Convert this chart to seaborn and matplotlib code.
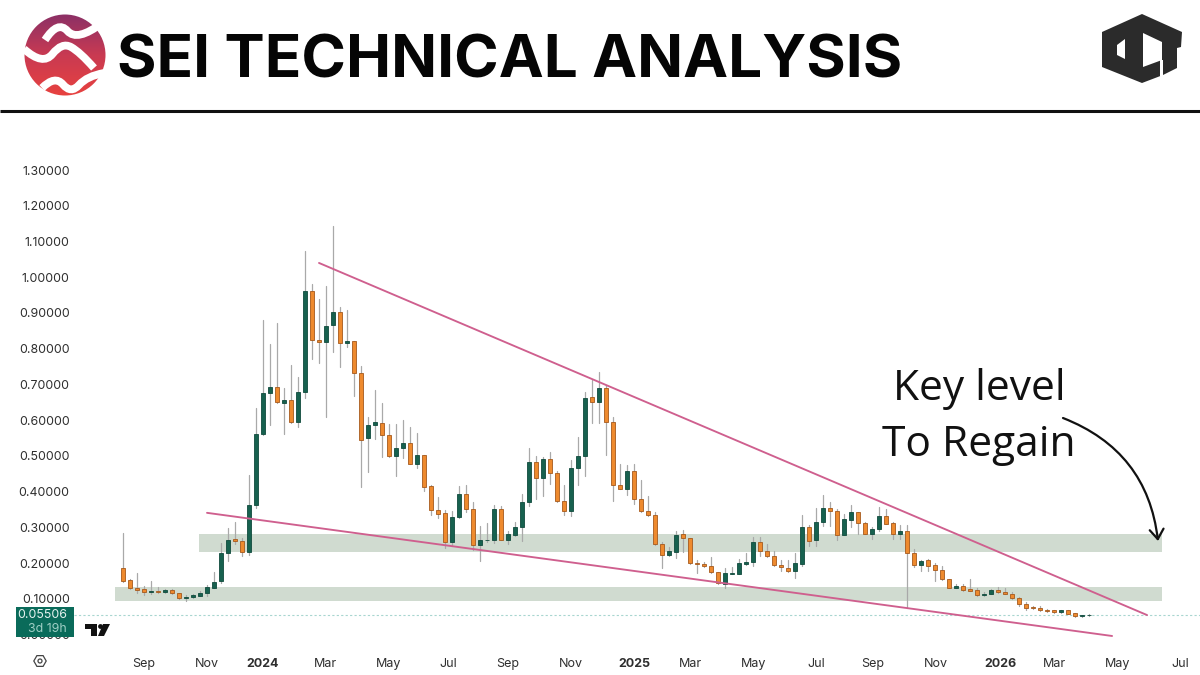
import numpy as np
import pandas as pd
import seaborn as sns
import matplotlib.pyplot as plt
from matplotlib.colors import LinearSegmentedColormap
from matplotlib.path import Path
from matplotlib.patches import Circle, Polygon, Rectangle, FancyArrowPatch, PathPatch

# weekly candles
opens = [.186, .153, .132, .127, .120, .122, .119, .124, .116, .103,
         .105, .109, .117, .132, .149, .228, .267, .263, .232, .363,
         .561, .675, .694, .649, .658, .596, .678, .961, .824, .820,
         .867, .903, .817, .823, .733, .549, .588, .593, .560, .501,
         .523, .535, .478, .502, .415, .349, .340, .259, .328, .394,
         .352, .250, .265, .266, .352, .266, .280, .300, .372, .482,
         .439, .491, .453, .375, .347, .467, .500, .664, .652, .691,
         .596, .418, .409, .459, .381, .347, .336, .255, .224, .232,
         .281, .270, .200, .198, .193, .175, .143, .171, .171, .199,
         .203, .260, .233, .221, .196, .188, .177, .199, .300, .264,
         .316, .354, .347, .280, .322, .342, .312, .283, .295, .331,
         .312, .282, .289, .229, .195, .208, .194, .181, .155, .132,
         .137, .128, .124, .110, .114, .124, .120, .115, .103, .085,
         .077, .075, .068, .068, .063, .068, .060, .053, .0545]
closes = [.150, .131, .125, .120, .122, .119, .124, .116, .103, .105,
          .110, .117, .133, .148, .228, .264, .263, .232, .363, .562,
          .677, .692, .650, .656, .595, .678, .961, .824, .819, .865,
          .902, .817, .822, .733, .546, .586, .594, .560, .500, .523,
          .536, .478, .502, .414, .349, .339, .259, .328, .394, .352,
          .250, .265, .266, .352, .266, .281, .300, .372, .483, .439,
          .491, .452, .375, .347, .467, .500, .661, .652, .691, .595,
          .420, .409, .457, .381, .347, .336, .255, .224, .233, .280,
          .270, .200, .197, .193, .175, .144, .172, .173, .200, .203,
          .260, .233, .221, .195, .189, .177, .200, .300, .263, .316,
          .354, .347, .280, .323, .342, .312, .283, .295, .331, .311,
          .283, .289, .229, .195, .207, .193, .181, .155, .132, .137,
          .126, .123, .110, .115, .124, .120, .115, .103, .085, .076,
          .075, .068, .067, .063, .068, .059, .053, .056, .05506]
highs = [.284, .155, .172, .136, .150, .134, .129, .127, .118, .112,
         .114, .123, .139, .176, .258, .298, .316, .270, .447, .635,
         .880, .812, .873, .689, .755, .722, 1.074, .980, .939, .976,
         1.143, .917, .908, .823, .752, .610, .684, .647, .589, .589,
         .601, .580, .563, .502, .419, .384, .349, .347, .416, .419,
         .370, .305, .313, .363, .361, .290, .316, .394, .521, .501,
         .496, .510, .459, .420, .489, .552, .680, .713, .734, .698,
         .610, .477, .475, .477, .433, .388, .344, .260, .246, .290,
         .293, .271, .209, .204, .218, .176, .186, .189, .212, .228,
         .274, .273, .253, .234, .209, .209, .230, .335, .307, .355,
         .391, .370, .351, .337, .364, .344, .314, .302, .356, .351,
         .314, .307, .307, .239, .209, .211, .202, .192, .156, .142,
         .142, .155, .130, .119, .127, .134, .130, .119, .105, .092,
         .081, .079, .071, .070, .068, .069, .061, .056, .058]
lows = [.148, .129, .118, .111, .114, .116, .116, .114, .101, .095,
        .104, .107, .109, .131, .144, .207, .255, .221, .223, .354,
        .559, .586, .648, .562, .593, .580, .661, .771, .761, .610,
        .792, .750, .804, .668, .414, .456, .547, .496, .496, .445,
        .495, .477, .466, .403, .334, .327, .244, .249, .326, .342,
        .237, .205, .260, .258, .265, .253, .277, .262, .361, .380,
        .389, .422, .372, .335, .333, .420, .444, .593, .593, .503,
        .374, .409, .391, .365, .344, .332, .251, .188, .221, .214,
        .232, .198, .172, .189, .173, .142, .132, .169, .170, .195,
        .192, .220, .218, .192, .177, .175, .160, .193, .248, .249,
        .304, .305, .265, .279, .300, .281, .281, .267, .291, .309,
        .267, .267, .074, .189, .178, .178, .150, .153, .130, .130,
        .123, .122, .108, .107, .113, .116, .113, .101, .081, .068,
        .071, .066, .064, .061, .061, .058, .051, .050, .053]

y_ticks = [0.0, 0.1, 0.2, 0.3, 0.4, 0.5, 0.6, 0.7, 0.8, 0.9, 1.0, 1.1, 1.2, 1.3]
x_ticks = [3, 12, 20, 28.9, 38, 46.4, 55, 64, 73.1, 81, 90.1, 99.1, 107.1, 116.1, 125.3, 133.1, 142.1, 151.1]
x_labels = ['Sep', 'Nov', '2024', 'Mar', 'May', 'Jul', 'Sep', 'Nov', '2025', 'Mar', 'May', 'Jul', 'Sep', 'Nov',
            '2026', 'Mar', 'May', 'Jul']

# support zones (left week, right week, bottom, top) and trend lines
zone_weeks = [[10.9, 148.4], [-1.1, 148.4]]
zone_prices = [[0.231, 0.282], [0.094, 0.134]]
upper_line_x = [28.0, 146.3]
upper_line_y = [1.04, 0.055]
lower_line_x = [12.0, 141.3]
lower_line_y = [0.341, -0.0035]
last_price = 0.05506

GREEN = '#17614f'
ORANGE = '#ee8a2e'
PINK = '#cf5f8e'
ZONE = '#d0dbd0'

sns.set_theme(style='white')
plt.rcParams['font.family'] = ['Inter', 'DejaVu Sans']

fig = plt.figure(figsize=(12, 6.75), dpi=100)
ax = fig.add_axes([85 / 1200, 1 - 650 / 675, 1115 / 1200, 520 / 675])

candles = pd.DataFrame({'week': np.arange(len(opens)), 'open': opens, 'high': highs, 'low': lows, 'close': closes})
candles['bottom'] = candles[['open', 'close']].min(axis=1)
candles['body'] = (candles['close'] - candles['open']).abs()

for (x0, x1), (y0, y1) in zip(zone_weeks, zone_prices):
    ax.add_patch(Rectangle((x0, y0), x1 - x0, y1 - y0, color=ZONE, lw=0, zorder=1))

wicks = candles.melt(id_vars='week', value_vars=['low', 'high'], value_name='price')
sns.lineplot(data=wicks, x='week', y='price', units='week', estimator=None, sort=False,
             color='#a9a9a9', lw=0.9, legend=False, ax=ax, zorder=2)

up = candles[candles['close'] >= candles['open']]
down = candles[candles['close'] < candles['open']]
sns.barplot(data=up, x='week', y='body', bottom=up['bottom'].values, native_scale=True, width=0.68,
            color=GREEN, saturation=1, errorbar=None, edgecolor='#0f4a3c', linewidth=0.6, ax=ax, zorder=3)
sns.barplot(data=down, x='week', y='body', bottom=down['bottom'].values, native_scale=True, width=0.68,
            color=ORANGE, saturation=1, errorbar=None, edgecolor='#a5591c', linewidth=0.6, ax=ax, zorder=3)

ax.plot(upper_line_x, upper_line_y, color=PINK, lw=1.35, zorder=4)
ax.plot(lower_line_x, lower_line_y, color=PINK, lw=1.35, zorder=4)
ax.plot([-7, 153.86], [last_price, last_price], color='#a8d6d0', lw=0.8, ls=(0, (2, 2)), zorder=1, clip_on=False)

ax.set_xlim(-5.43, 153.86)
ax.set_ylim(-0.0427, 1.4119)
ax.set_yticks(y_ticks)
ax.set_yticklabels([f'{v:.5f}' for v in y_ticks])
ax.set_xticks(x_ticks)
ax.set_xticklabels(x_labels)
for lab in ax.get_xticklabels():
    if lab.get_text().startswith('20'):
        lab.set_fontweight('bold')
ax.tick_params(axis='y', length=0, pad=11, labelsize=8.9, labelcolor='#2e2e2e')
ax.tick_params(axis='x', length=0, pad=6, labelsize=9, labelcolor='#2e2e2e')
ax.set_xlabel('')
ax.set_ylabel('')
ax.grid(False)
sns.despine(ax=ax, left=True, bottom=True)

# header and annotations live on a pixel-sized overlay
top = fig.add_axes([0, 0, 1, 1])
top.patch.set_alpha(0)
top.axis('off')

grad = np.linspace(0, 1, 256).reshape(-1, 1)
cmap = LinearSegmentedColormap.from_list('sei', ['#8b3066', '#c93a52', '#e8423f'])
im = top.imshow(grad, cmap=cmap, extent=[24, 106, 96, 14], aspect='auto')
im.set_clip_path(Circle((65, 55), 40.5, transform=top.transData))
waves = [
    [(45, 40), (58, 20), (77, 42), (102, 23)],
    [(24, 49), (43, 66), (62, 42), (80, 52), (94, 68)],
    [(42, 88), (55, 75), (71, 94), (87, 76), (104, 73)],
]
for w in waves:
    # quadratic segments through the midpoints of the control points
    pts = [w[0]]
    codes = [Path.MOVETO]
    for a, b in zip(w[1:-1], w[2:]):
        end = b if b == w[-1] else ((a[0] + b[0]) / 2, (a[1] + b[1]) / 2)
        pts += [a, end]
        codes += [Path.CURVE3, Path.CURVE3]
    top.add_patch(PathPatch(Path(pts, codes), fill=False, ec='white', lw=5.6, capstyle='butt'))

top.text(117, 77, 'SEI TECHNICAL ANALYSIS', fontsize=43.4, fontweight='bold', color='#050505', va='baseline', ha='left')
top.plot([0, 1200], [111, 111], color='#111111', lw=2.2, solid_capstyle='butt')

# DCT style logo
hexagon = [(1102, 32), (1142, 14), (1182, 32), (1181, 47), (1177, 48), (1177, 68), (1163, 75), (1142, 83), (1102, 67)]
top.add_patch(Polygon(hexagon, closed=True, color='#2b2b2b', lw=0))
top.add_patch(Polygon([(1117, 45), (1125, 39), (1125, 59), (1117, 55)], closed=True, color='white', lw=0))
top.add_patch(Polygon([(1143, 33), (1162, 42), (1162, 60), (1143, 67)], closed=True, color='white', lw=0))
top.add_patch(Rectangle((1160, 60), 2.5, 16, color='white', lw=0))

# price label
top.add_patch(Rectangle((16, 607), 58, 30, color='#0a6b5a', lw=0, zorder=5))
top.text(67, 615.5, '0.05506', fontsize=8.9, color='#e6f2ef', ha='right', va='center', zorder=6)
top.text(67, 628.5, '3d 19h', fontsize=8.9, color='#9fcfc5', ha='right', va='center', zorder=6)

# tradingview mark
top.add_patch(Polygon([(85, 624), (97, 624), (97, 636), (91, 636), (91, 629), (85, 629)], closed=True, color='#111111', lw=0))
top.add_patch(Circle((100.5, 626.5), 2.4, color='#111111', lw=0))
top.add_patch(Polygon([(103, 624), (110, 624), (104, 636), (98, 636)], closed=True, color='#111111', lw=0))

# settings icon
ang = np.radians(np.arange(0, 360, 60))
top.add_patch(Polygon(np.c_[40 + 6.2 * np.cos(ang), 661 + 6.2 * np.sin(ang)], closed=True, fill=False, ec='#444444', lw=0.9))
top.add_patch(Circle((40, 661), 2, fill=False, ec='#444444', lw=0.9))

top.text(979, 389, 'Key level', fontsize=30.6, color='#111111', ha='center', va='center', family=['Open Sans', 'DejaVu Sans'])
top.text(979, 445, 'To Regain', fontsize=30.6, color='#111111', ha='center', va='center', family=['Open Sans', 'DejaVu Sans'])
top.add_patch(FancyArrowPatch((1063, 418), (1158, 541), connectionstyle='arc3,rad=-0.3', arrowstyle='->,head_length=7,head_width=5',
                              color='#111111', lw=1.6, shrinkA=0, shrinkB=0))

top.set_xlim(0, 1200)
top.set_ylim(675, 0)

fig.savefig('out.png', dpi=100)
